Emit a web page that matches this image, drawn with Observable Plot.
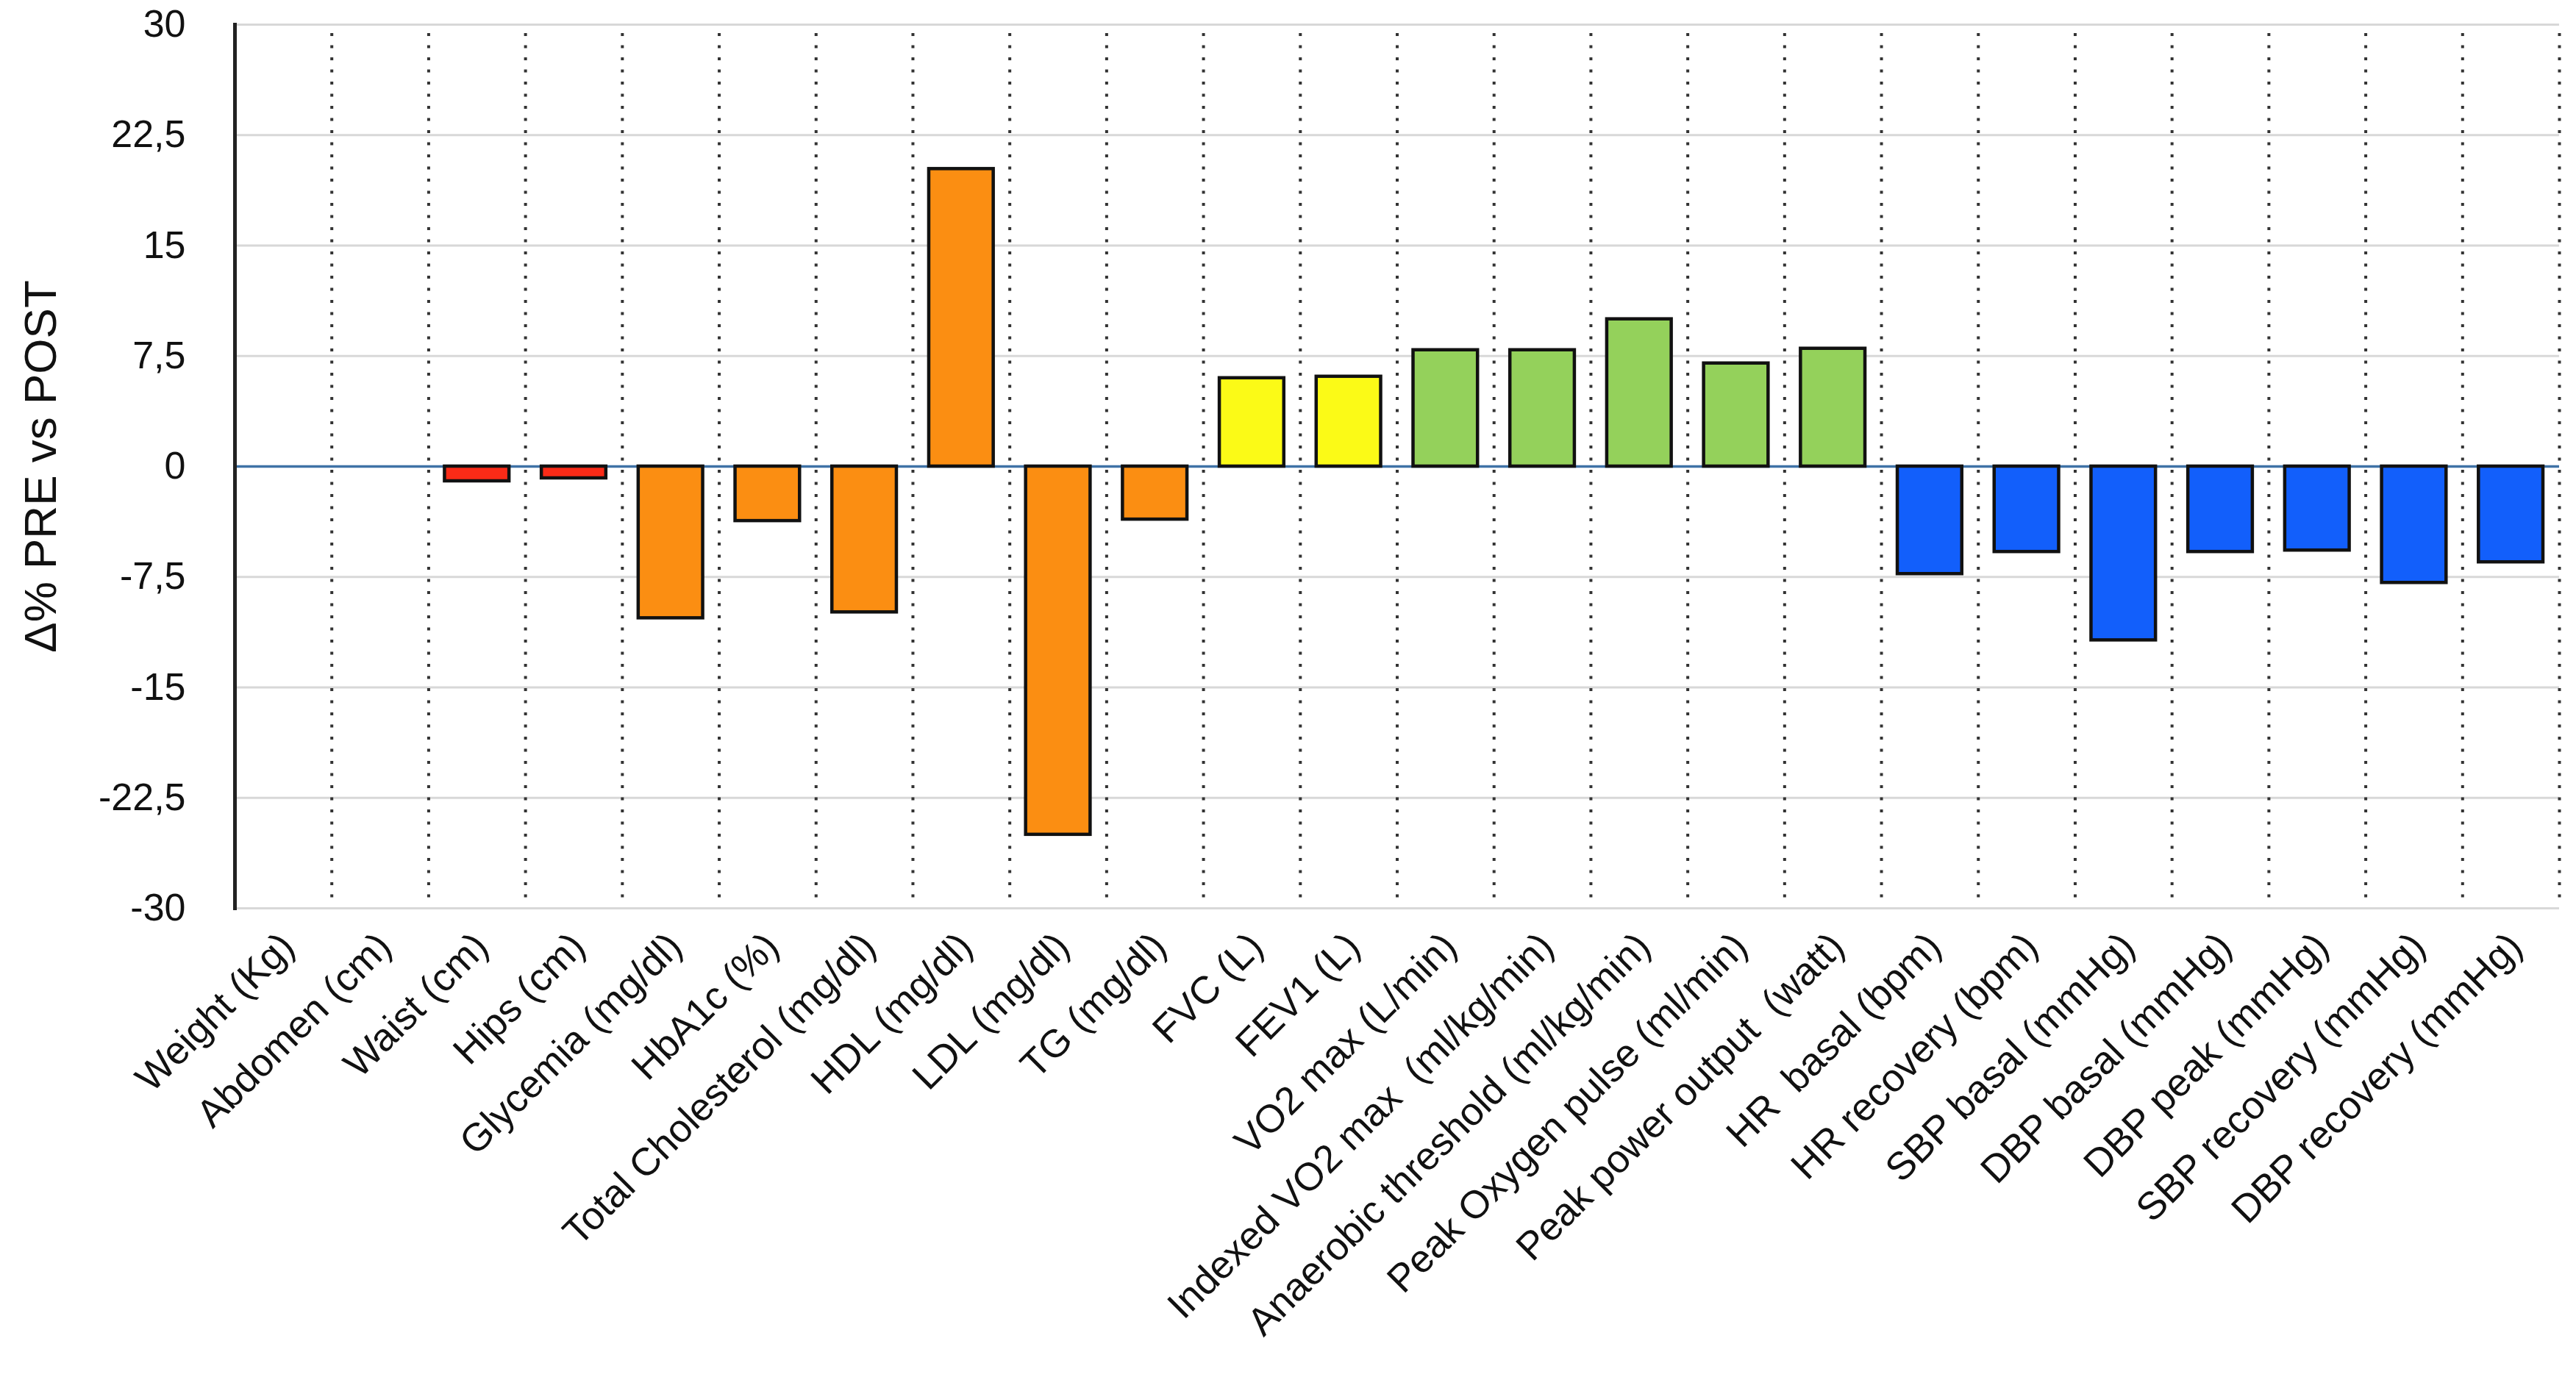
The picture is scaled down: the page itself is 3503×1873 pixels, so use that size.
<!DOCTYPE html>
<html><head><meta charset="utf-8">
<script src="https://cdn.jsdelivr.net/npm/d3@7"></script>
<script src="https://cdn.jsdelivr.net/npm/@observablehq/plot@0.6"></script>
<style>
html,body{margin:0;padding:0;background:#fff;overflow:hidden;}
svg text{white-space:pre;}
</style></head><body><div id="chart"></div>
<script>
const categories = [
  "Weight (Kg)", "Abdomen (cm)", "Waist (cm)", "Hips (cm)",
  "Glycemia (mg/dl)", "HbA1c (%)", "Total Cholesterol (mg/dl)", "HDL (mg/dl)", "LDL (mg/dl)", "TG (mg/dl)",
  "FVC (L)", "FEV1 (L)",
  "VO2 max (L/min)", "Indexed VO2 max  (ml/kg/min)", "Anaerobic threshold (ml/kg/min)", "Peak Oxygen pulse (ml/min)", "Peak power output  (watt)",
  "HR  basal (bpm)", "HR recovery (bpm)", "SBP basal (mmHg)", "DBP basal (mmHg)", "DBP peak (mmHg)", "SBP recovery (mmHg)", "DBP recovery (mmHg)"
];
const values = [
  0, 0, -1.0, -0.8,
  -10.3, -3.7, -9.9, 20.2, -25.0, -3.6,
  6.0, 6.1,
  7.9, 7.9, 10.0, 7.0, 8.0,
  -7.3, -5.8, -11.8, -5.8, -5.7, -7.9, -6.5
];
const groups = [
  "anthropometric", "anthropometric", "anthropometric", "anthropometric",
  "metabolic", "metabolic", "metabolic", "metabolic", "metabolic", "metabolic",
  "pulmonary", "pulmonary",
  "cardiopulmonary", "cardiopulmonary", "cardiopulmonary", "cardiopulmonary", "cardiopulmonary",
  "hemodynamic", "hemodynamic", "hemodynamic", "hemodynamic", "hemodynamic", "hemodynamic", "hemodynamic"
];
const groupNames = ["anthropometric", "metabolic", "pulmonary", "cardiopulmonary", "hemodynamic"];
const groupColors = ["#fb2b17", "#fb8e12", "#fbfa17", "#94d15b", "#125ffb"];
const yTicks = [-30, -22.5, -15, -7.5, 0, 7.5, 15, 22.5, 30];
const yLabel = "Δ% PRE vs POST";

const W = 3503, H = 1873, mL = 319, mR = 23, mT = 33, mB = 638;
const bw = (W - mL - mR) / categories.length;
const data = categories.map((c, i) => ({category: c, value: values[i], group: groups[i]}));

const chart = Plot.plot({
  width: W, height: H,
  marginLeft: mL, marginRight: mR, marginTop: mT, marginBottom: mB,
  style: {fontFamily: "'Liberation Sans', Arial, sans-serif", background: "#fff", color: "#111"},
  x: {domain: categories, padding: 0, round: false, axis: null},
  y: {domain: [-30, 30], axis: null},
  color: {domain: groupNames, range: groupColors},
  marks: [
    Plot.ruleY(yTicks, {stroke: "#d8d8d8", strokeWidth: 3}),
    Plot.ruleX(categories, {x: d => d, dx: bw / 2, y1: 29.4, y2: -29.3, stroke: "#333", strokeWidth: 4, strokeDasharray: "4,12.5"}),
    Plot.ruleY([0], {stroke: "#3f72a6", strokeWidth: 3.5}),
    Plot.barY(data.filter(d => d.value !== 0), {x: "category", y: "value", fill: "group", stroke: "#111", strokeWidth: 4.5, insetLeft: 22, insetRight: 22}),
    Plot.frame({anchor: "left", stroke: "#222", strokeWidth: 5}),
    Plot.axisY(yTicks, {tickSize: 0, tickPadding: 67, fontSize: 52, tickFormat: d => String(d).replace(".", ","), label: null}),
    Plot.text(categories, {x: d => d, frameAnchor: "bottom", dx: 18, dy: 55, rotate: -45, textAnchor: "end", lineAnchor: "bottom", fontSize: 53, fill: "#111"}),
    Plot.text([yLabel], {frameAnchor: "left", dx: -263, rotate: -90, textAnchor: "middle", lineAnchor: "middle", fontSize: 62, fill: "#111"})
  ]
});
document.getElementById("chart").appendChild(chart);
</script></body></html>
